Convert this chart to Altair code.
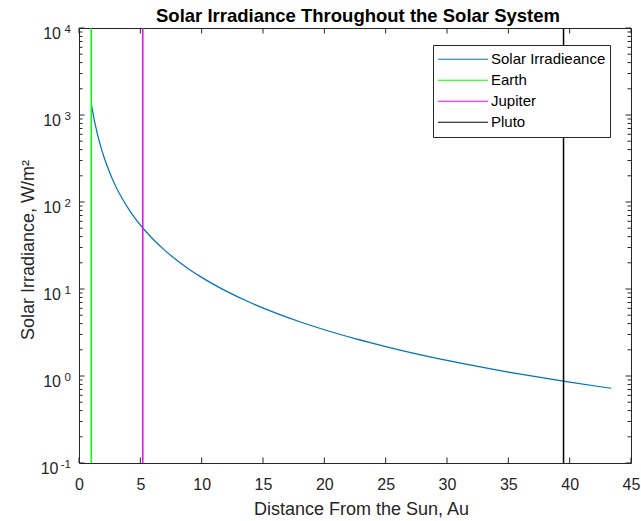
import altair as alt
import pandas as pd

# plot area size in pixels
W, H = 552, 435
FONT = "Liberation Sans"
AX = "#262626"

# Solar irradiance (W/m^2) along the curve at distances from the Sun (AU)
dist_au = [1.0, 1.25, 1.5, 1.75, 2.0, 2.5, 3.0, 3.5, 4.0, 4.5, 5.0, 6.0, 7.0, 8.0,
           9.0, 10.0, 12.0, 14.0, 16.0, 18.0, 20.0, 22.5, 25.0, 27.5, 30.0, 32.5,
           35.0, 37.5, 40.0, 42.5, 43.4]
irradiance = [1361, 871, 605, 444, 340, 218, 151, 111, 85, 67, 54.4, 37.8, 27.8,
              21.3, 16.8, 13.6, 9.45, 6.94, 5.32, 4.2, 3.4, 2.69, 2.18, 1.8, 1.51,
              1.29, 1.11, 0.97, 0.85, 0.753, 0.723]

# planet orbits drawn as vertical lines spanning the y range
planets = ["Earth", "Jupiter", "Pluto"]
planet_au = [1.0, 5.2, 39.5]
y_span = [0.1, 10000]

series_names = ["Solar Irradieance", "Earth", "Jupiter", "Pluto"]
series_colors = ["#0072BD", "#00FF00", "#FF00FF", "#000000"]

x_ticks = [0, 5, 10, 15, 20, 25, 30, 35, 40, 45]
y_decades = [0.1, 1, 10, 100, 1000, 10000]
y_exponents = ["-1", "0", "1", "2", "3", "4"]
y_minor = [m * d for d in y_decades[:-1] for m in range(2, 10)]

title_text = "Solar Irradiance Throughout the Solar System"
x_title = "Distance From the Sun, Au"
y_title = "Solar Irradiance, W/m²"

curve_df = pd.DataFrame({"dist": dist_au, "irr": irradiance,
                         "series": series_names[0]})
planet_df = pd.DataFrame({"dist": planet_au, "series": planets,
                          "lo": y_span[0], "hi": y_span[1]})
xt_df = pd.DataFrame({"v": x_ticks})
ymaj_df = pd.DataFrame({"v": y_decades, "exp": y_exponents})
ymin_df = pd.DataFrame({"v": y_minor})

xs = alt.Scale(domain=[0, 45], nice=False, zero=False)
ys = alt.Scale(type="log", domain=[0.1, 10000], nice=False)

x_axis = alt.Axis(values=x_ticks, format="d", ticks=False, tickSize=0,
                  domain=False, grid=False, labelFlush=False,
                  labelOverlap=False, labelPadding=13, labelFontSize=16,
                  labelFont=FONT, labelColor=AX, titleFont=FONT,
                  titleFontSize=18, titleFontWeight="normal",
                  titleColor=AX, titleX=W / 2 + 6, titleY=51,
                  titleBaseline="alphabetic")
y_axis = alt.Axis(labels=False, ticks=False, tickSize=0, domain=False,
                  grid=False, titleFont=FONT, titleFontSize=18,
                  titleFontWeight="normal", titleColor=AX,
                  titleX=-46, titleY=H / 2 + 4, titleAngle=270,
                  titleBaseline="alphabetic", titleAlign="center")


def X(field):
    return alt.X(field, scale=xs, axis=x_axis, title=x_title)


def Y(field):
    return alt.Y(field, scale=ys, axis=y_axis, title=y_title)


color = alt.Color(
    "series:N",
    scale=alt.Scale(domain=series_names, range=series_colors),
    legend=alt.Legend(
        orient="none", legendX=354, legendY=17, title=None,
        symbolType="stroke", symbolSize=2500, symbolStrokeWidth=1.2,
        clipHeight=20.5, rowPadding=0, padding=4, labelOffset=2,
        labelFontSize=15, labelFont=FONT, labelColor="black",
        strokeColor=AX, fillColor="white", cornerRadius=0, labelLimit=400,
    ),
)

curve = alt.Chart(curve_df).mark_line(strokeWidth=1.2, interpolate="monotone").encode(
    x=X("dist:Q"), y=Y("irr:Q"), color=color)

orbits = alt.Chart(planet_df).mark_rule(strokeWidth=1.5).encode(
    x=X("dist:Q"), y=Y("lo:Q"), y2="hi:Q", color=color)


# inward tick marks on all four sides
def yticks(df, length):
    left = alt.Chart(df).mark_rule(color=AX, strokeWidth=1).encode(
        y=Y("v:Q"), x=alt.value(0), x2=alt.value(length))
    right = alt.Chart(df).mark_rule(color=AX, strokeWidth=1).encode(
        y=Y("v:Q"), x=alt.value(W - length), x2=alt.value(W))
    return [left, right]


def xticks(df, length):
    bottom = alt.Chart(df).mark_rule(color=AX, strokeWidth=1).encode(
        x=X("v:Q"), y=alt.value(H - length), y2=alt.value(H))
    top = alt.Chart(df).mark_rule(color=AX, strokeWidth=1).encode(
        x=X("v:Q"), y=alt.value(0), y2=alt.value(length))
    return [bottom, top]


tick_layers = yticks(ymaj_df, 5.5) + yticks(ymin_df, 3.5) + xticks(xt_df, 5.5)

# log tick labels: base "10" with a raised exponent
neg = "indexof(datum.exp, '-') >= 0"
base_pos = alt.Chart(ymaj_df).transform_filter("!(" + neg + ")").mark_text(
    align="right", baseline="alphabetic", dy=10.5, fontSize=16, font=FONT, color=AX
).encode(y=Y("v:Q"), x=alt.value(-18), text=alt.value("10"))
base_neg = alt.Chart(ymaj_df).transform_filter(neg).mark_text(
    align="right", baseline="alphabetic", dy=10.5, fontSize=16, font=FONT, color=AX
).encode(y=Y("v:Q"), x=alt.value(-20.5), text=alt.value("10"))
expo = alt.Chart(ymaj_df).mark_text(
    align="right", baseline="alphabetic", dy=4.5, fontSize=11.5, font=FONT, color=AX
).encode(y=Y("v:Q"), x=alt.value(-8), text="exp:N")

title = alt.Chart(pd.DataFrame({"t": [title_text]})).mark_text(
    align="center", baseline="alphabetic", fontSize=18.5, fontWeight="bold",
    font=FONT, color="black"
).encode(text="t:N", x=alt.value(W / 2 + 3), y=alt.value(-6.5))

chart = alt.layer(
    curve, orbits, *tick_layers, base_pos, base_neg, expo, title
).properties(
    width=W, height=H,
    autosize=alt.AutoSizeParams(type="none"),
    padding={"left": 79, "top": 28, "right": 10, "bottom": 58},
).configure(font=FONT, background="white").configure_view(
    stroke=AX, strokeWidth=1
)

chart.save("out.html", embed_options={"renderer": "svg", "actions": False})
